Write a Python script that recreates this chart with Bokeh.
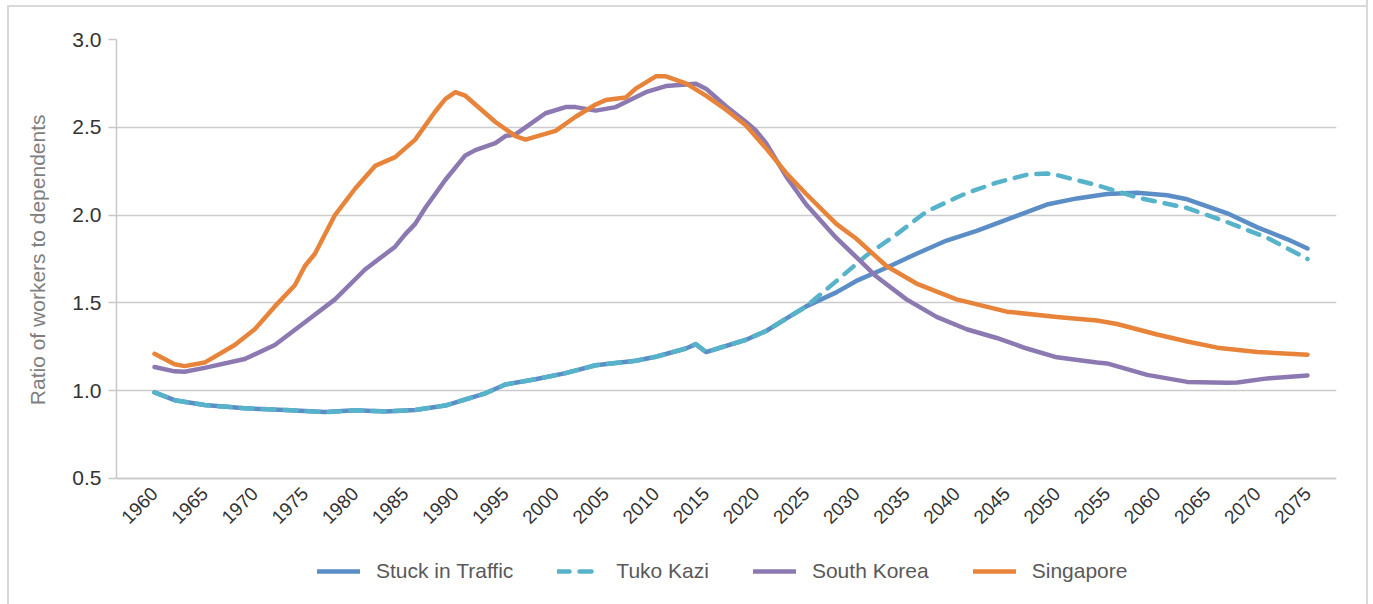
from bokeh.plotting import figure
from bokeh.models import FixedTicker, PrintfTickFormatter, Legend, LegendItem, Range1d, Title
from bokeh.embed import file_html
from bokeh.resources import INLINE
import math

# ---- data ----
stuck_years = [1960, 1962, 1965, 1969, 1973, 1977, 1980, 1983, 1986, 1989, 1993, 1995, 1998,
               2001, 2004, 2008, 2010, 2013, 2014, 2015, 2019, 2021, 2023, 2025, 2028, 2030,
               2033, 2036, 2039, 2042, 2046, 2049, 2052, 2055, 2058, 2061, 2063, 2067, 2070,
               2073, 2075]
stuck_vals = [0.99, 0.946, 0.918, 0.90, 0.89, 0.878, 0.888, 0.882, 0.89, 0.915, 0.985, 1.035, 1.065,
              1.10, 1.145, 1.17, 1.193, 1.24, 1.265, 1.22, 1.29, 1.34, 1.41, 1.48, 1.56, 1.625,
              1.70, 1.78, 1.855, 1.91, 1.995, 2.06, 2.095, 2.12, 2.127, 2.113, 2.09, 2.01, 1.93,
              1.862, 1.81]

tuko_years = [1960, 1962, 1965, 1969, 1973, 1977, 1980, 1983, 1986, 1989, 1993, 1995, 1998,
              2001, 2004, 2008, 2010, 2013, 2014, 2015, 2019, 2021, 2023, 2025, 2028, 2031,
              2034, 2037, 2040, 2041, 2044, 2047, 2049, 2050, 2054, 2056, 2058, 2063, 2067,
              2071, 2075]
tuko_vals = [0.99, 0.946, 0.918, 0.90, 0.89, 0.878, 0.888, 0.882, 0.89, 0.915, 0.985, 1.035, 1.065,
             1.10, 1.145, 1.17, 1.193, 1.24, 1.265, 1.22, 1.29, 1.34, 1.41, 1.48, 1.624, 1.77,
             1.89, 2.02, 2.10, 2.125, 2.185, 2.23, 2.237, 2.228, 2.17, 2.136, 2.10, 2.04, 1.96,
             1.87, 1.75]

korea_years = [1960, 1962, 1963, 1965, 1969, 1972, 1975, 1978, 1981, 1984, 1985, 1986, 1987,
               1989, 1991, 1992, 1994, 1995, 1996, 1997, 1999, 2001, 2002, 2004, 2006, 2009,
               2011, 2014, 2015, 2017, 2019, 2020, 2021, 2023, 2025, 2028, 2030, 2032, 2035,
               2038, 2041, 2044, 2047, 2050, 2054, 2055, 2059, 2063, 2067, 2068, 2071, 2075]
korea_vals = [1.135, 1.11, 1.108, 1.13, 1.18, 1.26, 1.39, 1.52, 1.69, 1.82, 1.89, 1.95, 2.04,
              2.20, 2.34, 2.37, 2.41, 2.45, 2.46, 2.50, 2.58, 2.615, 2.615, 2.595, 2.615, 2.70,
              2.735, 2.748, 2.72, 2.62, 2.53, 2.48, 2.41, 2.22, 2.06, 1.87, 1.76, 1.65, 1.52,
              1.42, 1.35, 1.30, 1.24, 1.19, 1.16, 1.155, 1.09, 1.05, 1.045, 1.047, 1.07, 1.087]

sing_years = [1960, 1962, 1963, 1965, 1968, 1970, 1972, 1974, 1975, 1976, 1978, 1980, 1982,
              1984, 1985, 1986, 1988, 1989, 1990, 1991, 1994, 1996, 1997, 2000, 2002, 2004,
              2005, 2007, 2008, 2010, 2011, 2013, 2015, 2017, 2019, 2021, 2023, 2025, 2028,
              2030, 2033, 2036, 2040, 2045, 2050, 2054, 2056, 2060, 2063, 2066, 2070, 2075]
sing_vals = [1.21, 1.15, 1.14, 1.16, 1.26, 1.35, 1.48, 1.60, 1.71, 1.78, 2.00, 2.15, 2.28,
             2.33, 2.38, 2.43, 2.59, 2.66, 2.70, 2.68, 2.53, 2.45, 2.43, 2.48, 2.56, 2.63,
             2.655, 2.67, 2.72, 2.79, 2.79, 2.75, 2.68, 2.60, 2.51, 2.38, 2.24, 2.12, 1.95,
             1.865, 1.71, 1.61, 1.52, 1.45, 1.42, 1.40, 1.38, 1.32, 1.28, 1.245, 1.22, 1.205]

x_ticks = list(range(1960, 2076, 5))
y_ticks = [0.5, 1.0, 1.5, 2.0, 2.5, 3.0]

series_names = ["Stuck in Traffic", "Tuko Kazi", "South Korea", "Singapore"]
colors = ["#5b8ec6", "#57b3c9", "#8c79b1", "#e8843a"]
y_label = "Ratio of workers to dependents"

FONT = "Liberation Sans"
W, H = 1368, 604

# the frame reaches down to the bottom so the legend can sit inside it;
# the x axis is pinned at y = 0.5
p = figure(width=W, height=H, output_backend="svg", toolbar_location=None,
           x_range=Range1d(1956.21, 2077.89), y_range=Range1d(-0.195, 3.0),
           min_border_left=116, min_border_top=39, min_border_right=32, min_border_bottom=4)
# light-gray outer box (left/top drawn as inset shadows behind a transparent border area)
p.styles = {"border-right": "2px solid #d9d9d9",
            "box-shadow": "inset 7px 5px 0 0 #ffffff, inset 9px 7px 0 0 #d9d9d9",
            "background-color": "#ffffff"}
p.outline_line_color = None
p.background_fill_color = "white"
p.border_fill_color = None

r1 = p.line(stuck_years, stuck_vals, line_color=colors[0], line_width=4.5, line_join="round", line_cap="round")
r2 = p.line(tuko_years, tuko_vals, line_color=colors[1], line_width=4.5, line_join="round", line_cap="round",
            line_dash="12 10")
r3 = p.line(korea_years, korea_vals, line_color=colors[2], line_width=4.5, line_join="round", line_cap="round")
r4 = p.line(sing_years, sing_vals, line_color=colors[3], line_width=4.5, line_join="round", line_cap="round")

# grid
p.xgrid.visible = False
p.ygrid.ticker = FixedTicker(ticks=y_ticks)
p.ygrid.grid_line_color = "#cccccc"
p.ygrid.grid_line_width = 1.5

# x axis
p.xaxis.fixed_location = 0.5
p.xaxis.ticker = FixedTicker(ticks=x_ticks)
p.xaxis.major_label_orientation = math.pi / 4
p.xaxis.axis_line_color = "#c8c8c8"
p.xaxis.axis_line_width = 1.5
p.xaxis.major_tick_line_color = None
p.xaxis.minor_tick_line_color = None
p.xaxis.major_label_text_font = FONT
p.xaxis.major_label_text_font_size = "19px"
p.xaxis.major_label_text_color = "#333333"
p.xaxis.major_label_standoff = 6

# y axis
p.yaxis.ticker = FixedTicker(ticks=y_ticks)
p.yaxis.bounds = (0.5, 3.0)
p.yaxis.formatter = PrintfTickFormatter(format="%.1f")
p.yaxis.axis_line_color = "#c8c8c8"
p.yaxis.axis_line_width = 1.5
p.yaxis.major_tick_line_color = "#c8c8c8"
p.yaxis.major_tick_line_width = 1.5
p.yaxis.major_tick_out = 8
p.yaxis.major_tick_in = 0
p.yaxis.minor_tick_line_color = None
p.yaxis.major_label_text_font = FONT
p.yaxis.major_label_text_font_size = "21px"
p.yaxis.major_label_text_color = "#333333"
p.yaxis.major_label_standoff = 7

# y-axis title, placed beside the 0.5-3.0 span of the axis
ytitle = Title(text=y_label, align="right", offset=75, standoff=41,
               text_font=FONT, text_font_size="21px", text_font_style="normal",
               text_color="#7f7f7f")
p.add_layout(ytitle, "left")

legend = Legend(items=[LegendItem(label=series_names[0], renderers=[r1]),
                       LegendItem(label=series_names[1], renderers=[r2]),
                       LegendItem(label=series_names[2], renderers=[r3]),
                       LegendItem(label=series_names[3], renderers=[r4])],
                orientation="horizontal", location=(201, 17))
legend.glyph_width = 43
legend.glyph_height = 24
legend.label_height = 24
legend.label_standoff = 16
legend.spacing = 44
legend.label_text_font = FONT
legend.label_text_font_size = "21px"
legend.label_text_color = "#595959"
legend.border_line_color = None
legend.background_fill_alpha = 0
legend.margin = 0
legend.padding = 6
p.add_layout(legend, "center")

open("out.html", "w").write(file_html(p, INLINE))
